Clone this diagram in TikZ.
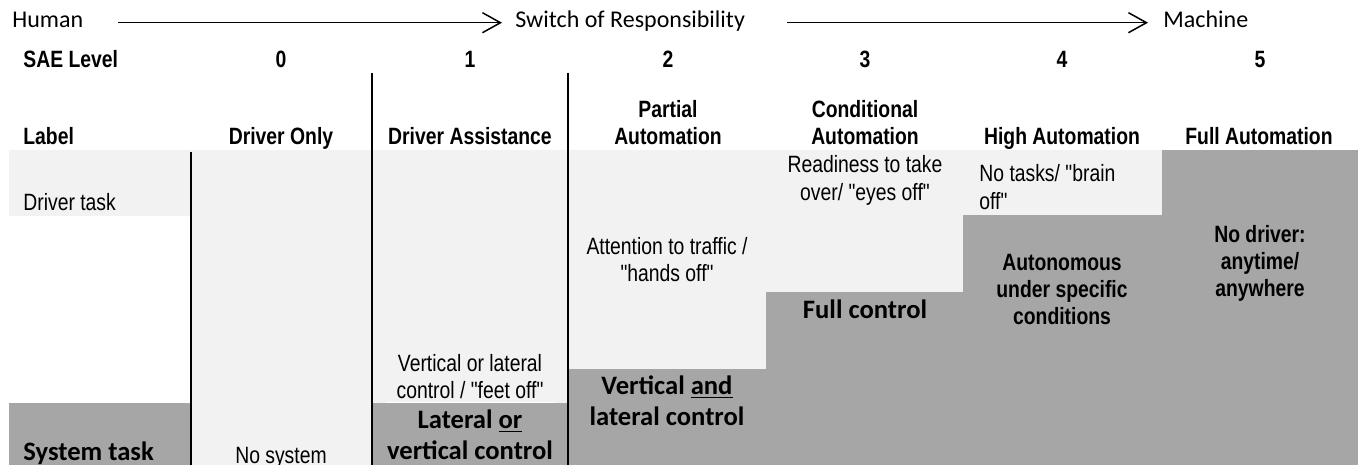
\documentclass[tikz,border=0pt]{standalone}
\usepackage{fontspec}
\usetikzlibrary{arrows.meta}
\newfontfamily\narrowfont{Liberation Sans}[FakeStretch=0.82]
\newfontfamily\calfont{Carlito}
\definecolor{lightcell}{HTML}{F2F2F2}
\definecolor{darkcell}{HTML}{A6A6A6}
\tikzset{
  head/.style={font=\narrowfont\bfseries\fontsize{11.8}{13.5}\selectfont, anchor=base, align=center, inner sep=0pt},
  cell/.style={font=\narrowfont\fontsize{11.8}{13.5}\selectfont, anchor=base, align=center, inner sep=0pt},
  systext/.style={font=\calfont\bfseries\fontsize{13.3}{15.5}\selectfont, anchor=base, align=center, inner sep=0pt},
  toptext/.style={font=\calfont\fontsize{12}{14}\selectfont, anchor=base west, inner sep=0pt},
  divider/.style={line width=1pt},
  shiftarrow/.style={line width=0.75pt, -{Straight Barb[length=9pt,width=10pt]}}
}

\begin{document}
\begin{tikzpicture}[x=0.5pt,y=-0.5pt]
        \useasboundingbox (0,0) rectangle (1361,465);
        % Driver task area (light cells)
        \fill[lightcell] (9,150)   rectangle (191,216);
        \fill[lightcell] (191,150) rectangle (372,465);
        \fill[lightcell] (372,150) rectangle (568,403);
        \fill[lightcell] (568,150) rectangle (766,369);
        \fill[lightcell] (766,150) rectangle (963,292);
        \fill[lightcell] (963,150) rectangle (1162,215);
        % System task area (dark cells, one step per level)
        \fill[darkcell] (9,403)    rectangle (191,465);
        \fill[darkcell] (372,403)  rectangle (568,465);
        \fill[darkcell] (568,369)  rectangle (766,465);
        \fill[darkcell] (766,292)  rectangle (963,465);
        \fill[darkcell] (963,215)  rectangle (1162,465);
        \fill[darkcell] (1162,150) rectangle (1358,465);
        \draw[white, line width=0.75pt] (386,402.5) -- (555,402.5);
        % Column dividers
        \draw[divider] (191,152) -- (191,465);
        \draw[divider] (372,73)  -- (372,465);
        \draw[divider] (568,73)  -- (568,465);

        % Responsibility line
        \node[toptext] (human)   at (12,28)   {Human};
        \node[toptext] (switch)  at (515,28)  {Switch of Responsibility};
        \node[toptext] (machine) at (1163,28) {Machine};
        \coordinate (humanend)   at (118,22.7);
        \coordinate (switchin)   at (502,22.7);
        \coordinate (switchend)  at (787,22.7);
        \coordinate (machinein)  at (1148,22.7);
        \draw[shiftarrow] (humanend) -- (switchin);
        \draw[shiftarrow] (switchend) -- (machinein);

        % Level numbers
        \node[head, anchor=base west] (sae) at (23,68) {SAE Level};
        \foreach \lvl/\cx in {0/281,1/470,2/668,3/865,4/1062,5/1260}
          \node[head] (lvl\lvl) at (\cx,68) {\lvl};

        % Level names (multi-line nodes sit on their last baseline)
        \node[head, anchor=base west] (label) at (23,145) {Label};
        \node[head] (name0) at (281,145)  {Driver Only};
        \node[head] (name1) at (470,145)  {Driver Assistance};
        \node[head] (name2) at (668,145)  {Partial\\Automation};
        \node[head] (name3) at (865,145)  {Conditional\\Automation};
        \node[head] (name4) at (1062,145) {High Automation};
        \node[head] (name5) at (1259,145) {Full Automation};

        % Driver tasks
        \node[cell, anchor=base west] (drv) at (23,211) {Driver task};
        \node[cell] (drv1) at (470,398) {Vertical or lateral\\control / "feet off"};
        \node[cell] (drv2) at (667,281) {Attention to traffic /\\"hands off"};
        \node[cell] (drv3) at (865,200) {Readiness to take\\over/ "eyes off"};
        \node[cell, anchor=base west, align=left] (drv4) at (979,209) {No tasks/ "brain\\off"};

        % System tasks
        \node[systext, anchor=base west] (sys) at (23,460) {System task};
        \node[cell] (sys0) at (281,463)    {No system};
        \node[systext] (sys1) at (470,459) {Lateral \underline{or}\\vertical control};
        \node[systext] (sys2) at (667,425) {Vertical \underline{and}\\lateral control};
        \node[systext] (sys3) at (865,318) {Full control};
        \node[head] (sys4) at (1062,324)   {Autonomous\\under specific\\conditions};
        \node[head] (sys5) at (1260,296)   {No driver:\\anytime/\\anywhere};
      \end{tikzpicture}
\end{document}
